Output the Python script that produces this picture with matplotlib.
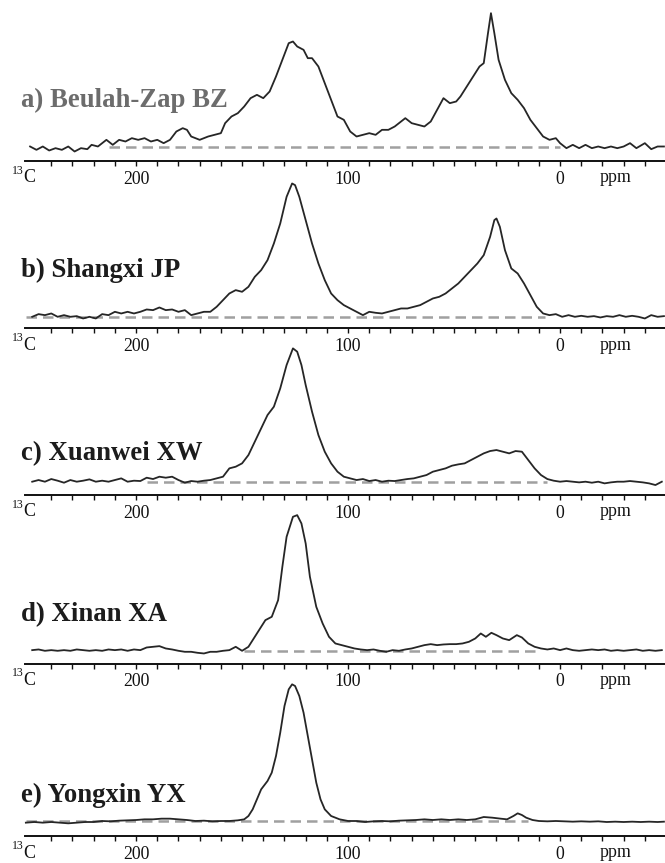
import matplotlib
matplotlib.use("Agg")
import matplotlib.pyplot as plt
from matplotlib.ticker import FixedLocator, NullFormatter
import numpy as np

# ---------------- data (ppm, intensity relative to baseline, arbitrary units) ----------------
ppm_a = [250, 247, 244, 241, 238, 235, 232, 229, 226, 223, 221, 218, 214, 211, 208, 205, 202, 199, 196, 193,
         190, 187, 184, 181, 178, 176, 174, 170, 166, 163, 160, 158, 155, 152, 149, 146, 143, 140, 137, 134,
         131, 128, 126, 124, 121, 119, 117, 114, 111, 108, 105, 102, 99, 96, 93, 90, 87, 84, 81, 78,
         75, 73, 70, 67, 64, 61, 58, 55, 52, 49, 47, 44, 41, 38, 36, 34, 32.6, 31, 29, 26,
         23, 20, 17, 14, 11, 8, 5, 2, 0, -3, -6, -9, -12, -15, -18, -21, -24, -27, -30, -33,
         -36, -40, -43, -46, -49]
int_a = [3, -7, 3, -9, -2, -7, 3, -12, -2, -5, 8, 3, 23, 8, 23, 18, 28, 23, 28, 18,
         23, 13, 23, 48, 58, 53, 33, 23, 33, 38, 43, 73, 93, 103, 123, 148, 158, 148, 168, 213,
         263, 313, 318, 303, 293, 268, 268, 243, 193, 143, 93, 83, 48, 33, 38, 43, 38, 53, 53, 63,
         78, 88, 73, 68, 63, 78, 113, 148, 133, 138, 153, 183, 213, 243, 253, 343, 403, 343, 263, 203,
         163, 143, 118, 83, 58, 33, 23, 28, 13, -2, 8, -2, 8, -2, 3, -2, 3, -2, 3, 13,
         -2, 13, -5, 3, 3]

ppm_b = [249, 246, 243, 240, 237, 234, 231, 228, 225, 222, 219, 216, 213, 210, 207, 204, 201, 198, 195, 192,
         189, 186, 183, 180, 177, 174, 171, 168, 165, 162, 159, 156, 153, 150, 147, 144, 141, 138, 135, 132,
         129, 126.4, 125, 123, 120, 117, 114, 111, 108, 105, 102, 99, 96, 93, 90, 87, 84, 81, 78, 75,
         72, 69, 66, 63, 60, 57, 54, 51, 48, 45, 42, 39, 36, 33, 31, 30, 28.4, 26, 23, 20,
         17, 14, 11, 8, 5, 2, -1, -4, -7, -10, -13, -16, -19, -22, -25, -28, -31, -34, -37, -40,
         -43, -46, -49]
int_b = [0, 8, 5, 10, 0, 5, 0, 2, -5, 0, -5, 8, 5, 15, 10, 15, 10, 15, 22, 20,
         28, 20, 22, 15, 20, 5, 10, 15, 15, 30, 50, 70, 80, 75, 90, 120, 140, 170, 220, 280,
         360, 400, 395, 360, 290, 220, 160, 110, 70, 50, 35, 25, 15, 5, 15, 12, 10, 15, 20, 25,
         25, 30, 35, 45, 55, 60, 70, 85, 100, 120, 140, 160, 185, 240, 290, 295, 270, 200, 145, 130,
         100, 65, 30, 10, 5, 8, 0, 5, 0, 3, 0, 2, -2, 2, 0, 5, 0, 3, 0, -5,
         5, 0, 2]

ppm_c = [249, 246, 243, 240, 237, 234, 231, 228, 225, 222, 219, 216, 213, 210, 207, 204, 201, 198, 195, 192,
         189, 186, 183, 180, 177, 174, 171, 168, 165, 162, 159, 156, 153, 150, 147, 144, 141, 138, 135, 132,
         129, 126, 124, 122, 120, 117, 114, 111, 108, 105, 102, 99, 96, 93, 90, 87, 84, 81, 78, 75,
         72, 69, 66, 63, 60, 57, 54, 51, 48, 45, 42, 39, 36, 33, 30, 27, 24, 21, 18, 15,
         12, 9, 6, 3, 0, -3, -6, -9, -12, -15, -18, -21, -24, -27, -30, -33, -36, -39, -42, -45,
         -48]
int_c = [0, 5, 0, 8, 3, -3, 5, 0, 3, 7, 0, 3, 0, 5, 10, 0, 3, 2, 12, 8,
         15, 12, 15, 5, -3, 2, 0, 3, 5, 10, 15, 40, 45, 55, 80, 120, 160, 200, 225, 280,
         350, 400, 390, 350, 290, 210, 140, 90, 55, 30, 15, 10, 5, 8, 2, 5, 0, 3, 2, 5,
         8, 10, 15, 20, 30, 35, 40, 48, 52, 55, 65, 75, 85, 92, 95, 90, 85, 92, 90, 65,
         40, 20, 8, 3, 0, 2, 0, -2, 0, -3, 0, -5, -2, 0, 0, 2, 0, -2, -5, -10,
         0]

ppm_d = [249, 246, 243, 240, 237, 234, 231, 228, 225, 222, 219, 216, 213, 210, 207, 204, 201, 198, 195, 192,
         189, 186, 183, 180, 177, 174, 171, 168, 165, 162, 159, 156, 153, 150, 147, 144, 141, 139, 136, 133,
         131, 129, 126, 124, 122, 120, 118, 115, 112, 109, 106, 103, 100, 97, 94, 91, 88, 85, 82, 79,
         76, 73, 70, 67, 64, 61, 58, 55, 52, 49, 46, 43, 40, 37.4, 35, 32.4, 30, 27, 24, 20.4,
         18, 15, 12, 9, 6, 3, 0, -3, -6, -9, -12, -15, -18, -21, -24, -27, -30, -33, -36, -39,
         -42, -45, -48]
int_d = [2, 4, 0, 2, 0, 2, 0, 4, 2, 0, 2, 0, 4, 2, 4, 0, 4, 2, 10, 12,
         14, 7, 4, 0, -3, -3, -6, -8, -3, -3, 0, 2, 12, 0, 12, 42, 72, 92, 102, 152,
         252, 342, 402, 407, 382, 322, 222, 132, 82, 42, 22, 17, 12, 7, 4, 2, 4, 0, -3, 2,
         0, 4, 7, 12, 17, 20, 17, 19, 20, 20, 22, 27, 37, 52, 42, 54, 47, 37, 32, 47,
         40, 22, 12, 7, 4, 7, 2, 7, 2, 0, 2, 4, 2, 4, 0, 2, 0, 2, 4, 0,
         2, 0, 2]

ppm_e = [252, 248, 244, 240, 236, 232, 228, 224, 220, 216, 212, 208, 204, 200, 196, 192, 188, 184, 180, 176,
         172, 168, 164, 160, 156, 152, 149, 147, 145, 143, 141, 138, 136, 134, 132, 130, 128, 126.4, 125, 123,
         121, 119, 117, 115, 113, 111, 108, 104, 100, 96, 92, 88, 84, 80, 76, 72, 68, 64, 60, 56,
         52, 48, 44, 40, 36, 32, 28, 25, 22, 20, 18, 16, 13, 10, 6, 2, -2, -6, -10, -14,
         -18, -22, -26, -30, -34, -38, -42, -46, -49]
int_e = [-5, -3, -5, -3, -5, -7, -5, -3, -3, 0, -1, 1, 2, 3, 5, 5, 7, 7, 5, 3,
         0, 1, -1, 0, 0, 2, 5, 15, 35, 65, 95, 120, 145, 195, 265, 345, 395, 410, 405, 375,
         325, 255, 185, 115, 65, 35, 15, 5, 0, 0, -3, -1, 0, -1, 1, 2, 3, 5, 3, 5,
         3, 5, 3, 5, 12, 10, 7, 5, 15, 23, 18, 10, 3, 0, -1, 0, -1, -2, -1, -2,
         -1, -3, -2, -3, -2, -3, -2, -3, -2]

labels = ["a) Beulah-Zap BZ", "b) Shangxi JP", "c) Xuanwei XW", "d) Xinan XA", "e) Yongxin YX"]
dash_ranges = [(213, 0), (252, 7), (195, 6), (149, 11), (252, 15)]
tick_labels = {200: "200", 100: "100", 0: "0"}
minor_ticks = [t for t in range(-40, 241, 10) if t not in tick_labels]

ppms = [ppm_a, ppm_b, ppm_c, ppm_d, ppm_e]
ints = [int_a, int_b, int_c, int_d, int_e]

# ---------------- layout (pixels) ----------------
W, H = 665, 863
axis_y = [161, 328.5, 495, 663.5, 836]        # y of the ppm axis line, px from top
base_off = [13.5, 11.7, 13.3, 12.7, 15]        # baseline height above axis, px
label_base = [107, 276.5, 460.5, 621.5, 801.5]  # text baseline y, px from top
label_colors = ["#6c6c6c", "#1c1c1c", "#1c1c1c", "#1c1c1c", "#1c1c1c"]
AXH = 150
UNIT = 3.0  # data units per pixel

fig = plt.figure(figsize=(W / 100, H / 100), dpi=100)
fig.patch.set_facecolor("white")

serif = "Liberation Serif"
left_px = 25

for i in range(5):
    ax = fig.add_axes([left_px / W, 1 - axis_y[i] / H, (W - left_px) / W, AXH / H])
    ax.patch.set_visible(False)
    ax.set_xlim(252.4, -49.5)
    ax.set_ylim(-UNIT * base_off[i], UNIT * (AXH - base_off[i]))
    for s in ["top", "left", "right"]:
        ax.spines[s].set_visible(False)
    ax.spines["bottom"].set_linewidth(1.4)
    ax.spines["bottom"].set_color("#111111")
    ax.yaxis.set_visible(False)

    ax.hlines(0, dash_ranges[i][0], dash_ranges[i][1], colors="#a0a0a0",
              linestyles=(0, (4.2, 2.4)), linewidth=1.8, zorder=1)
    ax.plot(ppms[i], ints[i], color="#262626", linewidth=1.3, clip_on=False,
            solid_joinstyle="round", zorder=3)

    ax.xaxis.set_major_locator(FixedLocator(list(tick_labels.keys())))
    ax.set_xticklabels(list(tick_labels.values()))
    ax.xaxis.set_minor_locator(FixedLocator(minor_ticks))
    ax.xaxis.set_minor_formatter(NullFormatter())
    ax.tick_params(axis="x", which="both", direction="out", length=3.8, width=1.0,
                   color="#111111", pad=3.2, labelsize=12.8)
    for lab in ax.get_xticklabels():
        lab.set_fontfamily(serif)
        lab.set_color("#111111")

    # axis annotations
    ly = axis_y[i] + 16.5
    fig.text(616 / W, 1 - ly / H, "ppm", ha="center", va="center", family=serif,
             fontsize=12.8, color="#111111")
    fig.text(29.5 / W, 1 - (axis_y[i] + 17) / H, "C", ha="center", va="center", family=serif,
             fontsize=13, color="#111111")
    fig.text(17.5 / W, 1 - (axis_y[i] + 9.5) / H, "13", ha="center", va="center", family=serif,
             fontsize=8.5, color="#111111")

    fig.text(21 / W, 1 - label_base[i] / H, labels[i], ha="left", va="baseline",
             family=serif, fontweight="bold", fontsize=19.3, color=label_colors[i])

fig.savefig("out.png", dpi=100, facecolor="white")
